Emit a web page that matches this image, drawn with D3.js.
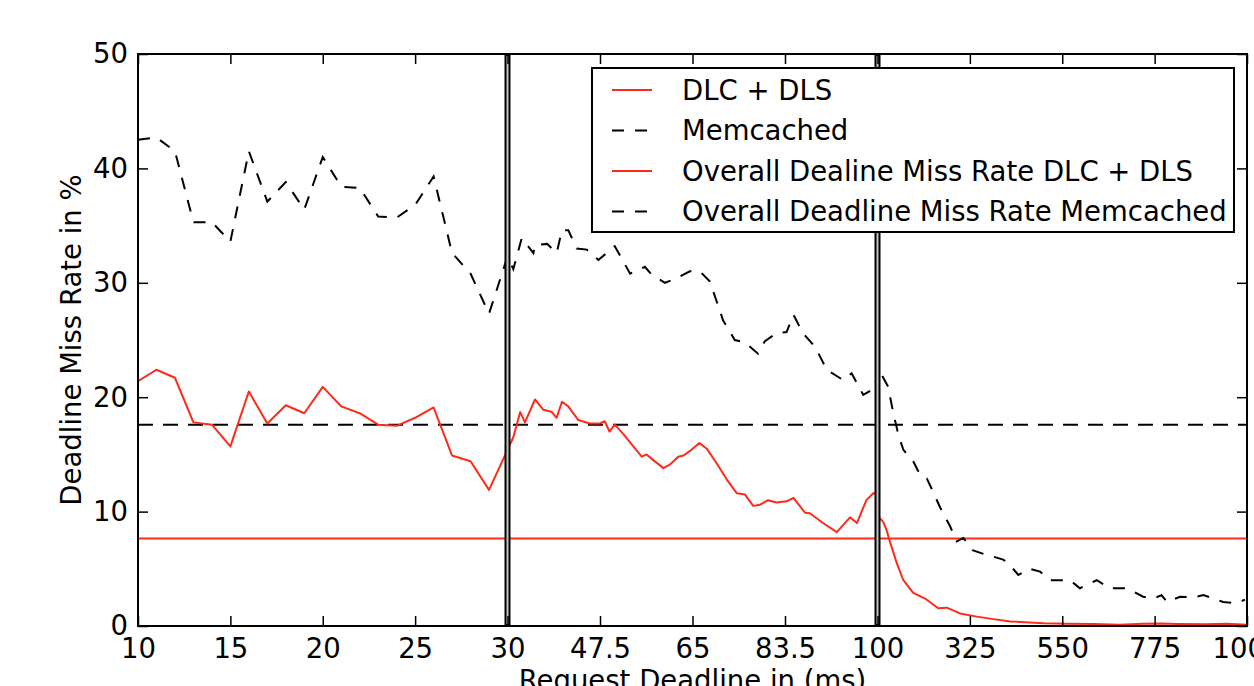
<!DOCTYPE html>
<html>
<head>
<meta charset="utf-8">
<script src="https://cdn.jsdelivr.net/npm/d3@7"></script>
<style>
  html, body { margin: 0; padding: 0; background: #fff; }
  svg { display: block; font-family: 'DejaVu Sans', sans-serif; }
</style>
</head>
<body>
<div id="chart"></div>
<script>
// x breakpoints of the piecewise axis (three linear segments)
const xBreaks = [10, 30, 100, 1000];
const xTickValues = [10, 15, 20, 25, 30, 47.5, 65, 82.5, 100, 325, 550, 775, 1000];
const xTickLabels = ['10', '15', '20', '25', '30', '47.5', '65', '83.5', '100', '325', '550', '775', '1000'];
const yTickValues = [0, 10, 20, 30, 40, 50];

// DLC + DLS
const dlcX = [10, 11, 12, 13, 14, 15, 16, 17, 18, 19, 20, 21, 22, 23, 24, 25, 26, 27, 28, 29, 30,
    31.1, 32.4, 33.3, 35.2, 36.8, 38.4, 39.3, 40.3, 41.5, 43.4, 45.6, 47.5, 48.4, 49.3, 50.3, 51.9,
    53.8, 55.4, 56.3, 57.6, 59.5, 60.7, 62.3, 63.3, 64.8, 66.3, 67.7, 69.6, 71.5, 73.4, 74.9, 76.5,
    77.8, 79.3, 80.9, 82.8, 84.1, 86.3, 87.2, 89.7, 92.3, 94.8, 96.1, 97.9, 99.2, 100,
    101, 106, 114, 122, 130, 147, 163, 187, 216, 248, 269, 301, 342, 382, 423, 504, 560, 626,
    690, 747, 790, 829, 900, 950, 1000];
const dlcY = [21.4, 22.4, 21.7, 17.8, 17.6, 15.7, 20.5, 17.7, 19.3, 18.6, 20.9, 19.2, 18.6, 17.6, 17.5, 18.2, 19.1, 14.9, 14.4, 11.9, 15.4,
    16.5, 18.7, 17.8, 19.8, 18.9, 18.7, 18.2, 19.6, 19.2, 18.0, 17.7, 17.7, 17.9, 17.0, 17.6, 16.8,
    15.7, 14.8, 15.0, 14.5, 13.8, 14.1, 14.8, 14.9, 15.4, 16.0, 15.5, 14.2, 12.8, 11.6, 11.5, 10.5,
    10.6, 11.0, 10.8, 10.9, 11.2, 9.9, 9.85, 9.0, 8.2, 9.5, 9.0, 11.0, 11.6, 11.5,
    9.6, 9.4, 9.1, 8.4, 7.4, 5.5, 4.0, 2.9, 2.4, 1.55, 1.6, 1.1, 0.82, 0.6, 0.4, 0.25, 0.2, 0.17,
    0.12, 0.2, 0.22, 0.18, 0.15, 0.2, 0.1];

// Memcached
const memX = [10, 11, 12, 13, 14, 15, 16, 17, 18, 19, 20, 21, 22, 23, 24, 25, 26, 27, 28, 29, 30,
    31.1, 32.7, 34.9, 35.2, 37.5, 39.3, 40.3, 41.5, 43.1, 45, 47.2, 50.3, 53.2, 56, 57.3, 59.8, 62,
    64.5, 66.4, 68.3, 70.8, 73, 74.9, 77.4, 78.7, 80.9, 82.8, 84.1, 85.9, 88.2, 90.4, 93.5, 95.1,
    97.3, 99.5, 100,
    108, 126, 138, 151, 163, 187, 204, 220, 232, 252, 277, 293, 309, 333, 358, 382, 406, 419, 443,
    471, 496, 520, 553, 569, 593, 634, 666, 707, 747, 772, 792, 805, 837, 870, 894, 918, 942, 975, 995];
const memY = [42.5, 42.7, 41.5, 35.3, 35.3, 33.6, 41.5, 37.1, 38.8, 36.4, 41.0, 38.4, 38.3, 35.8, 35.7, 36.8, 39.3, 32.6, 30.8, 27.3, 32.3,
    31.2, 33.9, 32.6, 33.3, 33.4, 32.6, 34.6, 34.6, 33.0, 32.9, 32.0, 33.2, 30.8, 31.4, 30.7, 30.0, 30.4,
    31.0, 31.0, 30.1, 26.7, 25.0, 24.8, 23.8, 24.9, 25.6, 25.7, 27.2, 25.6, 24.4, 22.4, 21.5, 22.1,
    20.2, 20.8, 22.5,
    22.1, 20.9, 18.7, 16.7, 15.4, 14.4, 13.2, 12.9, 12.0, 10.4, 8.7, 7.4, 7.7, 6.6, 6.3, 6.06, 5.8, 5.5, 4.46,
    5.0, 4.75, 4.0, 4.0, 4.0, 3.3, 4.0, 3.3, 3.3, 2.56, 2.4, 2.7, 2.1, 2.56, 2.5, 2.7, 2.4, 2.1, 2.0, 2.3];

// overall rates (horizontal lines)
const overallDlc = 7.65;
const overallMem = 17.6;

const legendLabels = ['DLC + DLS', 'Memcached', 'Overall Dealine Miss Rate DLC + DLS', 'Overall Deadline Miss Rate Memcached'];

const width = 1254, height = 686;
const plot = { left: 138, right: 1247, top: 54, bottom: 626 };
const red = '#ff2a1a';
const fontSize = '27.5px';
const curveDash = '12,11';

const svg = d3.select('#chart')
    .append('svg')
    .attr('width', width)
    .attr('height', height);

const x = d3.scaleLinear()
    .domain(xBreaks)
    .range([plot.left, 507.5, 877.5, plot.right]);

const y = d3.scaleLinear()
    .domain([0, 50])
    .range([plot.bottom, plot.top]);

svg.append('defs').append('clipPath')
    .attr('id', 'plotClip')
    .append('rect')
    .attr('x', plot.left)
    .attr('y', plot.top)
    .attr('width', plot.right - plot.left)
    .attr('height', plot.bottom - plot.top);

const g = svg.append('g').attr('clip-path', 'url(#plotClip)');

const line = d3.line()
    .x(d => x(d[0]))
    .y(d => y(d[1]));

// overall horizontal lines
g.append('line')
    .attr('x1', x(10)).attr('x2', x(1000))
    .attr('y1', y(overallDlc)).attr('y2', y(overallDlc))
    .style('stroke', red)
    .style('stroke-width', '2px');

g.append('line')
    .attr('x1', x(10)).attr('x2', x(1000))
    .attr('y1', y(overallMem)).attr('y2', y(overallMem))
    .style('stroke', '#000')
    .style('stroke-width', '2px')
    .style('stroke-dasharray', '15,10');

// series
g.append('path')
    .datum(memX.map((v, i) => [v, memY[i]]))
    .attr('d', line)
    .style('fill', 'none')
    .style('stroke', '#000')
    .style('stroke-width', '2px')
    .style('stroke-dasharray', curveDash);

g.append('path')
    .datum(dlcX.map((v, i) => [v, dlcY[i]]))
    .attr('d', line)
    .style('fill', 'none')
    .style('stroke', red)
    .style('stroke-width', '2px')
    .style('stroke-linejoin', 'round');

// segment dividers at 30 and 100 (double black line)
[30, 100].forEach(v => {
    svg.append('line')
        .attr('x1', x(v)).attr('x2', x(v))
        .attr('y1', plot.top).attr('y2', plot.bottom)
        .style('stroke', '#000')
        .style('stroke-width', '6px');
    svg.append('line')
        .attr('x1', x(v)).attr('x2', x(v))
        .attr('y1', plot.top + 2).attr('y2', plot.bottom - 2)
        .style('stroke', '#c4c4c4')
        .style('stroke-width', '2px');
});

// axes (ticks point inward)
const bottomAxis = svg.append('g')
    .attr('transform', `translate(0,${plot.bottom})`)
    .call(d3.axisBottom(x)
        .tickValues(xTickValues)
        .tickFormat((d, i) => xTickLabels[i])
        .tickSize(-10)
        .tickPadding(12));

const topAxis = svg.append('g')
    .attr('transform', `translate(0,${plot.top})`)
    .call(d3.axisTop(x)
        .tickValues(xTickValues)
        .tickFormat('')
        .tickSize(-10));

const leftAxis = svg.append('g')
    .attr('transform', `translate(${plot.left},0)`)
    .call(d3.axisLeft(y)
        .tickValues(yTickValues)
        .tickFormat(d3.format('d'))
        .tickSize(-10)
        .tickPadding(10));

const rightAxis = svg.append('g')
    .attr('transform', `translate(${plot.right},0)`)
    .call(d3.axisRight(y)
        .tickValues(yTickValues)
        .tickFormat('')
        .tickSize(-10));

[bottomAxis, topAxis, leftAxis, rightAxis].forEach(a => {
    a.select('.domain').remove();
    a.selectAll('.tick line').style('stroke', '#000').style('stroke-width', '1.5px');
    a.selectAll('.tick text')
        .style('font-family', "'DejaVu Sans', sans-serif")
        .style('font-size', fontSize)
        .style('fill', '#000');
});

// frame
svg.append('rect')
    .attr('x', plot.left)
    .attr('y', plot.top)
    .attr('width', plot.right - plot.left)
    .attr('height', plot.bottom - plot.top)
    .style('fill', 'none')
    .style('stroke', '#000')
    .style('stroke-width', '2px');

// axis titles
svg.append('text')
    .attr('transform', `translate(81,${(plot.top + plot.bottom) / 2}) rotate(-90)`)
    .attr('text-anchor', 'middle')
    .style('font-size', fontSize)
    .style('fill', '#000')
    .text('Deadline Miss Rate in %');

svg.append('text')
    .attr('x', (plot.left + plot.right) / 2)
    .attr('y', 690)
    .attr('text-anchor', 'middle')
    .style('font-size', fontSize)
    .style('fill', '#000')
    .text('Request Deadline in (ms)');

// legend
const legend = svg.append('g').attr('transform', 'translate(592,68)');

legend.append('rect')
    .attr('width', 642)
    .attr('height', 164)
    .style('fill', '#fff')
    .style('stroke', '#000')
    .style('stroke-width', '2px');

const legendStyles = [
    { color: red, dash: null },
    { color: '#000', dash: curveDash },
    { color: red, dash: null },
    { color: '#000', dash: curveDash }
];

const rows = legend.selectAll('.legendRow')
    .data(legendLabels)
    .enter()
    .append('g')
    .attr('class', 'legendRow')
    .attr('transform', (d, i) => `translate(0,${22 + i * 40.5})`);

rows.append('line')
    .attr('x1', 20).attr('x2', 60)
    .style('stroke', (d, i) => legendStyles[i].color)
    .style('stroke-width', '2px')
    .style('stroke-dasharray', (d, i) => legendStyles[i].dash);

rows.append('text')
    .attr('x', 90)
    .attr('dy', '0.36em')
    .style('font-size', fontSize)
    .style('fill', '#000')
    .text(d => d);
</script>
</body>
</html>
